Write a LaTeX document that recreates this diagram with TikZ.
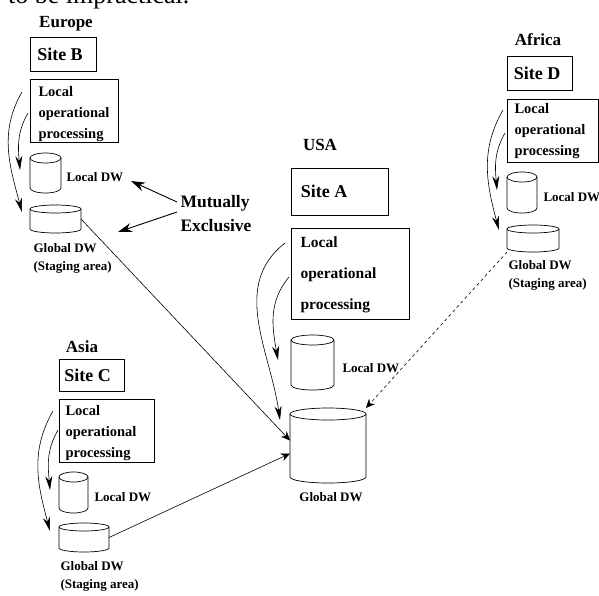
\documentclass[tikz,border=0pt]{standalone}
\usepackage{fontspec}
\setmainfont{Liberation Serif}
\usepackage{tikz}
\usetikzlibrary{arrows.meta,positioning,shapes.geometric}

% name, x, y, width, height, rim
\newcommand{\deposito}[6]{
  \node[minimum width=#4pt, minimum height=#5pt, inner sep=0pt, outer sep=0pt] (#1) at (#2,#3) {};
  \draw[cilindro] ([yshift=-#6pt]#1.north west) -- ([yshift=#6pt]#1.south west)
    arc[start angle=180, end angle=360, x radius=#4pt/2, y radius=#6pt]
    -- ([yshift=-#6pt]#1.north east);
  \draw[cilindro] ([yshift=-#6pt]#1.north) ellipse[x radius=#4pt/2, y radius=#6pt];
}

\begin{document}
\begin{tikzpicture}[
    x=1pt, y=-1pt,
    >=Stealth,
    sitio/.style={rectangle, draw=black, line width=0.9pt, inner sep=0pt, font=\fontsize{18}{18}\bfseries\selectfont},
    proceso/.style={rectangle, draw=black, line width=0.9pt, inner sep=0pt},
    cilindro/.style={draw=black, line width=0.7pt},
    regiao/.style={font=\fontsize{17}{17}\bfseries\selectfont},
    rotulo/.style={font=\fontsize{13}{13}\bfseries\selectfont},
    nota/.style={font=\fontsize{13}{18}\bfseries\selectfont, align=left},
    texto/.style={font=\fontsize{14.5}{21}\bfseries\selectfont, align=left, anchor=west},
    arco/.style={-{Stealth[length=14pt,width=7pt]}, line width=0.6pt},
    ligacao/.style={-{Stealth[length=9pt,width=8pt]}, line width=0.6pt},
    exclusivo/.style={-{Stealth[length=14pt,width=9pt]}, line width=0.9pt}
]
\useasboundingbox (0,0) rectangle (599,595);
\node[font=\fontsize{26}{26}\selectfont, anchor=base west, inner sep=0pt] (frase) at (8,3) {to be impractical.};
% ---------- Europe ----------
\node[regiao] (eur) at (66,24) {Europe};
\node[sitio, minimum width=66pt, minimum height=34pt] (b1) at (63,54) {Site B\kern6pt};
\node[proceso, minimum width=88pt, minimum height=63pt] (b2) at (74,110.5) {};
\node[texto] (b2t) at (35,114) {Local\\operational\\processing};
\deposito{b3}{45.5}{173}{31}{40}{5}
\deposito{b4}{55.5}{219}{51}{28}{4}
\node[rotulo, anchor=west] (b5) at (63,177) {Local DW};
\node[nota, anchor=north west] (b6) at (30,240) {Global DW\\(Staging area)};
\coordinate (bs1) at (22,92);
\coordinate (bs2) at (28,113);
\coordinate (be1) at (22,212);
\coordinate (be2) at (20,170);
\draw[arco] (bs2) to[out=240,in=95] (be2);
\draw[arco] (bs1) to[out=240,in=105] (be1);
% ---------- Mutually Exclusive ----------
\node[font=\fontsize{17.5}{24}\bfseries\selectfont, align=left, anchor=west] (mut) at (177,214) {Mutually\\Exclusive};
\coordinate (m1) at (131,181);
\coordinate (m2) at (118,232);
\draw[exclusivo] ([yshift=12pt]mut.west) -- (m1);
\draw[exclusivo] ([yshift=2pt]mut.west) -- (m2);
% ---------- USA ----------
\node[regiao] (usa) at (320,145) {USA};
\node[sitio, minimum width=97pt, minimum height=47pt] (a1) at (339.5,191.5) {\raisebox{-12pt}{Site A}\kern31pt};
\node[proceso, minimum width=118pt, minimum height=91pt] (a2) at (350,273.5) {};
\node[texto, font=\fontsize{15.5}{31}\bfseries\selectfont] (a2t) at (297,275) {Local\\operational\\processing};
\deposito{a3}{312.5}{362.5}{43}{55}{5}
\deposito{a4}{328}{445.5}{76}{75}{6}
\node[rotulo, anchor=west] (a5) at (339,368) {Local DW};
\node[rotulo] (a6) at (331,497) {Global DW};
\coordinate (as1) at (285,243);
\coordinate (as2) at (289,277);
\coordinate (ae1) at (280,420);
\coordinate (ae2) at (278,360);
\draw[arco] (as2) to[out=230,in=100] (ae2);
\draw[arco] (as1) to[out=218,in=98] (ae1);
% ---------- Asia ----------
\node[regiao] (asi) at (82,347) {Asia};
\node[sitio, minimum width=65pt, minimum height=32pt] (c1) at (91.5,375) {Site C\kern8pt};
\node[proceso, minimum width=95pt, minimum height=63pt] (c2) at (106.5,430.5) {};
\node[texto] (c2t) at (62,433) {Local\\operational\\processing};
\deposito{c3}{73.5}{492.5}{29}{41}{5}
\deposito{c4}{84}{537.5}{50}{29}{4}
\node[rotulo, anchor=west] (c5) at (91,497) {Local DW};
\node[nota, anchor=north west] (c6) at (57,558) {Global DW\\(Staging area)};
\coordinate (cs1) at (53,411);
\coordinate (cs2) at (58,430);
\coordinate (ce1) at (50,531);
\coordinate (ce2) at (50,490);
\draw[arco] (cs2) to[out=240,in=95] (ce2);
\draw[arco] (cs1) to[out=240,in=105] (ce1);
% ---------- Africa ----------
\node[regiao] (afr) at (538,40) {Africa};
\node[sitio, minimum width=65pt, minimum height=34pt] (d1) at (539.5,73) {Site D\kern5pt};
\node[proceso, minimum width=91pt, minimum height=63pt] (d2) at (552.5,130.5) {};
\node[texto] (d2t) at (511,131) {Local\\operational\\processing};
\deposito{d3}{522}{192.5}{30}{41}{5}
\deposito{d4}{533}{238.5}{52}{27}{4}
\node[rotulo, anchor=west] (d5) at (540,197) {Local DW};
\node[nota, anchor=north west] (d6) at (505,257) {Global DW\\(Staging area)};
\coordinate (ds1) at (503,110);
\coordinate (ds2) at (505,133);
\coordinate (de1) at (499,230);
\coordinate (de2) at (497,190);
\draw[arco] (ds2) to[out=240,in=95] (de2);
\draw[arco] (ds1) to[out=240,in=105] (de1);
% ---------- ligacoes ----------
\draw[ligacao] (b4.east) -- ([yshift=5pt]a4.west);
\draw[ligacao] (c4.east) -- ([yshift=-8pt]a4.west);
\draw[ligacao, dashed] (d4.south west) -- (a4.north east);
\end{tikzpicture}
\end{document}
